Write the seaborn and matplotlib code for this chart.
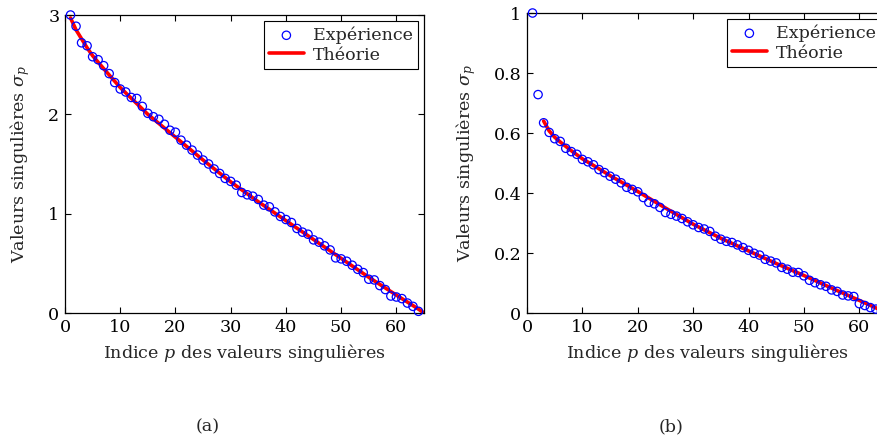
import numpy as np
import pandas as pd
import matplotlib
matplotlib.use("Agg")
import matplotlib.pyplot as plt
import seaborn as sns

# ---------------- data ----------------
p_exp = list(range(1, 65))

exp_a = [3.00, 2.887, 2.72, 2.69, 2.58, 2.55, 2.49, 2.41, 2.32, 2.255,
         2.225, 2.17, 2.16, 2.08, 2.01, 1.976, 1.95, 1.90, 1.84, 1.82,
         1.74, 1.69, 1.64, 1.59, 1.54, 1.50, 1.45, 1.405, 1.355, 1.325,
         1.287, 1.213, 1.19, 1.176, 1.143, 1.086, 1.069, 1.018, 0.972, 0.941,
         0.911, 0.851, 0.814, 0.793, 0.736, 0.713, 0.676, 0.635, 0.555, 0.545,
         0.521, 0.481, 0.44, 0.407, 0.34, 0.333, 0.276, 0.236, 0.171, 0.161,
         0.145, 0.10, 0.067, 0.017]

p_th_a = [1, 2, 3, 4, 5, 7, 10, 15, 20, 25, 30, 35, 40, 45, 50, 55, 60, 63, 64.5, 65]
th_a = [2.97, 2.85, 2.76, 2.67, 2.59, 2.46, 2.27, 2.00, 1.77, 1.54,
        1.32, 1.12, 0.93, 0.74, 0.55, 0.36, 0.18, 0.075, 0.02, 0.0]

exp_b = [1.00, 0.728, 0.634, 0.602, 0.581, 0.572, 0.549, 0.538, 0.529, 0.512,
         0.504, 0.494, 0.478, 0.468, 0.456, 0.446, 0.434, 0.419, 0.412, 0.404,
         0.385, 0.369, 0.364, 0.352, 0.335, 0.329, 0.323, 0.315, 0.304, 0.294,
         0.285, 0.280, 0.272, 0.256, 0.246, 0.239, 0.235, 0.227, 0.218, 0.209,
         0.199, 0.193, 0.179, 0.173, 0.167, 0.152, 0.146, 0.136, 0.135, 0.124,
         0.109, 0.101, 0.094, 0.089, 0.077, 0.072, 0.060, 0.057, 0.055, 0.031,
         0.025, 0.018, 0.013, 0.006]

p_th_b = [3, 4, 5, 6, 8, 10, 12, 15, 20, 25, 30, 35, 40, 45, 50, 55, 60, 63, 65]
th_b = [0.640, 0.607, 0.586, 0.570, 0.541, 0.514, 0.492, 0.458, 0.405, 0.350,
        0.296, 0.249, 0.207, 0.165, 0.125, 0.083, 0.042, 0.017, 0.0]

xticks = [0, 10, 20, 30, 40, 50, 60]
yticks_a = [0, 1, 2, 3]
yticks_b = [0, 0.2, 0.4, 0.6, 0.8, 1]
ytick_labels_b = ["0", "0.2", "0.4", "0.6", "0.8", "1"]

xlabel = "Indice $p$ des valeurs singulières"
ylabel = "Valeurs singulières $\\sigma_p$"
captions = ["(a)", "(b)"]
legend_labels = ["Expérience", "Théorie"]

# ---------------- style ----------------
sns.set_theme(style="ticks")
plt.rcParams["font.family"] = ["DejaVu Serif"]
plt.rcParams["mathtext.fontset"] = "dejavuserif"
FS = 12.6

W, H = 877, 441
fig = plt.figure(figsize=(W / 100, H / 100), dpi=100)

def px_axes(x0, x1, y0, y1):
    return fig.add_axes([x0 / W, 1 - y1 / H, (x1 - x0) / W, (y1 - y0) / H])

ax_a = px_axes(65, 424, 15, 313)
ax_b = px_axes(527, 887, 13, 313)

panels = [
    (ax_a, exp_a, p_th_a, th_a, (0, 3), yticks_a, [str(t) for t in yticks_a]),
    (ax_b, exp_b, p_th_b, th_b, (0, 1), yticks_b, ytick_labels_b),
]

for ax, ev, pt, tv, ylim, yt, ytl in panels:
    df_e = pd.DataFrame({"p": p_exp, "v": ev})
    df_t = pd.DataFrame({"p": pt, "v": tv})
    sns.lineplot(data=df_t, x="p", y="v", ax=ax, color="#ff0000", linewidth=2.6,
                 label=legend_labels[1], zorder=2)
    sns.scatterplot(data=df_e, x="p", y="v", ax=ax, marker="o", s=36,
                    facecolors="none", edgecolor="#0000ff", linewidth=0.9,
                    label=legend_labels[0], zorder=3, clip_on=False)
    ax.set_xlim(0, 65)
    ax.set_ylim(*ylim)
    ax.set_xticks(xticks)
    ax.set_yticks(yt)
    ax.set_yticklabels(ytl)
    ax.tick_params(direction="in", top=True, right=True, length=4.5, width=0.8,
                   labelsize=FS, pad=4, colors="black")
    for s in ax.spines.values():
        s.set_linewidth(0.9)
        s.set_color("black")
    ax.set_xlabel(xlabel, fontsize=FS, labelpad=5)
    ax.set_ylabel(ylabel, fontsize=FS)
    handles, labels = ax.get_legend_handles_labels()
    order = [labels.index(legend_labels[0]), labels.index(legend_labels[1])]
    leg = ax.legend([handles[i] for i in order], [labels[i] for i in order],
                    loc="upper right", fontsize=FS, frameon=True,
                    fancybox=False, edgecolor="black", framealpha=1,
                    borderpad=0.3, handlelength=2.0, handletextpad=0.5,
                    labelspacing=0.15, borderaxespad=0.35)
    leg.get_frame().set_linewidth(0.8)

ax_a.yaxis.set_label_coords(-33 / 359, 0.5)
ax_b.yaxis.set_label_coords(-49 / 360, 0.5)

fig.text(208 / W, 1 - 427 / H, captions[0], ha="center", va="center", fontsize=FS)
fig.text(671 / W, 1 - 427 / H, captions[1], ha="center", va="center", fontsize=FS)

fig.savefig("out.png", dpi=100)
